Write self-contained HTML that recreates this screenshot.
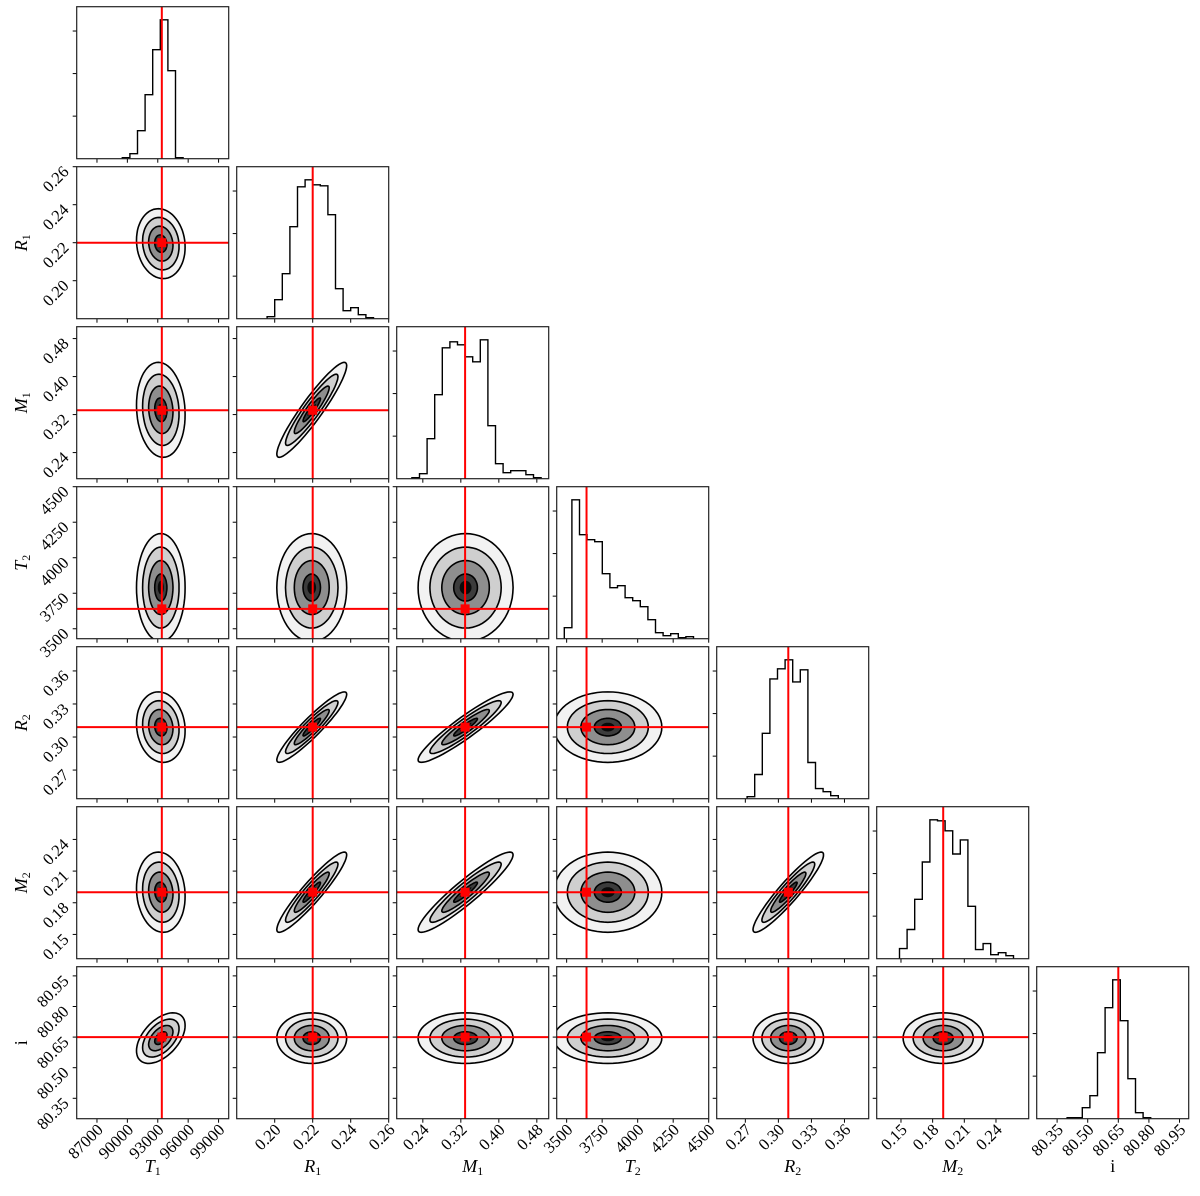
<!DOCTYPE html>
<html><head><meta charset="utf-8">
<style>
html,body{margin:0;padding:0;background:#fff;}
svg{display:block;font-family:"Liberation Serif",serif;}
</style></head>
<body>
<svg id="chart" width="1200" height="1196" viewBox="0 0 1200 1196" xmlns="http://www.w3.org/2000/svg"></svg>
<script>
// ---- data ----
const paramNames = ["T1","R1","M1","T2","R2","M2","i"];
const paramLo    = [85000, 0.18, 0.185, 3430, 0.244, 0.127, 80.25];
const paramHi    = [100000, 0.26, 0.505, 4500, 0.382, 0.271, 80.995];
const truthVals  = [93400, 0.22, 0.329, 3640, 0.309, 0.190, 80.65];
const meanVals   = [93300, 0.2195, 0.33, 3790, 0.309, 0.190, 80.645];
const sdVals     = [1200, 0.0092, 0.05, 190, 0.016, 0.019, 0.062];
const tickT1 = [87000,90000,93000,96000,99000];
const tickR1 = [0.20,0.22,0.24,0.26];
const tickM1 = [0.24,0.32,0.40,0.48];
const tickT2 = [3500,3750,4000,4250,4500];
const tickR2 = [0.27,0.30,0.33,0.36];
const tickM2 = [0.15,0.18,0.21,0.24];
const tickI  = [80.35,80.50,80.65,80.80,80.95];
const tickLabelsT1 = ["87000","90000","93000","96000","99000"];
const tickLabelsR1 = ["0.20","0.22","0.24","0.26"];
const tickLabelsM1 = ["0.24","0.32","0.40","0.48"];
const tickLabelsT2 = ["3500","3750","4000","4250","4500"];
const tickLabelsR2 = ["0.27","0.30","0.33","0.36"];
const tickLabelsM2 = ["0.15","0.18","0.21","0.24"];
const tickLabelsI  = ["80.35","80.50","80.65","80.80","80.95"];
// histogram counts (20 bins over [lo,hi]); start bin index
const histStart = [6, 4, 2, 1, 4, 3, 4];
const histT1 = [1, 5, 28, 64, 109, 139, 88, 1];
const histR1 = [2, 19, 45, 92, 132, 139, 134, 133, 104, 30, 8, 11, 4, 1];
const histM1 = [1, 5, 40, 84, 131, 137, 134, 122, 117, 139, 53, 15, 6, 8, 8, 4, 1];
const histT2 = [11, 139, 104, 99, 97, 65, 51, 53, 41, 38, 32, 19, 6, 3, 5, 1, 2];
const histR2 = [2, 24, 65, 119, 129, 138, 116, 128, 36, 10, 7, 3];
const histM2 = [10, 29, 59, 96, 138, 137, 127, 104, 118, 52, 9, 15, 4, 6, 3];
const histI  = [1, 1, 11, 23, 66, 111, 139, 98, 40, 6, 1];
// correlation matrix (lower triangle used)
const corrT1 = [1, -0.1, -0.1, 0, -0.1, -0.1, 0.5];
const corrR1 = [-0.1, 1, 0.93, 0, 0.93, 0.93, 0];
const corrM1 = [-0.1, 0.93, 1, 0, 0.93, 0.93, 0];
const corrT2 = [0, 0, 0, 1, 0, 0, 0];
const corrR2 = [-0.1, 0.93, 0.93, 0, 1, 0.93, 0];
const corrM2 = [-0.1, 0.93, 0.93, 0, 0.93, 1, 0];
const corrI  = [0.5, 0, 0, 0, 0, 0, 1];

const ticks = [tickT1,tickR1,tickM1,tickT2,tickR2,tickM2,tickI];
const tickLabels = [tickLabelsT1,tickLabelsR1,tickLabelsM1,tickLabelsT2,tickLabelsR2,tickLabelsM2,tickLabelsI];
const hists = [histT1,histR1,histM1,histT2,histR2,histM2,histI];
const corr = [corrT1,corrR1,corrM1,corrT2,corrR2,corrM2,corrI];

// ---- layout ----
const X0 = 76.7, Y0 = 6.7, STEP = 160, SIZE = 152, N = 7;
const svg = document.getElementById('chart');
const NS = "http://www.w3.org/2000/svg";
function mk(tag, attrs, parent){
  const e = document.createElementNS(NS, tag);
  for (const k in attrs) e.setAttribute(k, attrs[k]);
  (parent||svg).appendChild(e);
  return e;
}
function sx(p, v, col){ return X0 + col*STEP + (v - paramLo[p])/(paramHi[p]-paramLo[p])*SIZE; }
function sy(p, v, row){ return Y0 + row*STEP + SIZE - (v - paramLo[p])/(paramHi[p]-paramLo[p])*SIZE; }

const defs = mk('defs', {});
const levels = [2, 1.5, 1, 0.5, 0.25];
const fills = ['#f2f2f2', '#cfcfcf', '#8e8e8e', '#3c3c3c', '#0a0a0a'];

function ellipsePts(px, py, row, col, k){
  const r = corr[py][px];
  let pts = [];
  for (let t=0; t<=64; t++){
    const a = t/64*2*Math.PI;
    const u = Math.cos(a), w = Math.sin(a);
    const vx = meanVals[px] + k*sdVals[px]*u;
    const vy = meanVals[py] + k*sdVals[py]*(r*u + Math.sqrt(1-r*r)*w);
    pts.push(sx(px,vx,col).toFixed(1)+','+sy(py,vy,row).toFixed(1));
  }
  return pts.join(' ');
}

for (let row=0; row<N; row++){
  for (let col=0; col<=row; col++){
    const x0 = X0 + col*STEP, y0 = Y0 + row*STEP;
    const g = mk('g', {});
    
    
    const cid = 'clip'+row+'_'+col;
    const cp = mk('clipPath', {id: cid}, defs);
    mk('rect', {x:x0, y:y0, width:SIZE, height:SIZE}, cp);
    const inner = mk('g', {'clip-path':'url(#'+cid+')'}, g);
    if (row === col){
      const h = hists[col], start = histStart[col];
      const maxC = Math.max(...h);
      const binW = (paramHi[col]-paramLo[col])/20;
      const hy = c => y0 + SIZE - c/(maxC*1.094)*SIZE;
      let d = '';
      for (let b=0; b<h.length; b++){
        const xa = sx(col, paramLo[col] + (start+b)*binW, col);
        const xb = sx(col, paramLo[col] + (start+b+1)*binW, col);
        d += (b===0 ? 'M'+xa.toFixed(1)+','+(y0+SIZE) : '') + 'L'+xa.toFixed(1)+','+hy(h[b]).toFixed(1)+'L'+xb.toFixed(1)+','+hy(h[b]).toFixed(1);
        if (b===h.length-1) d += 'L'+xb.toFixed(1)+','+(y0+SIZE);
      }
      const hp = mk('path', {d:d, fill:'none', stroke:'#000', 'stroke-width':1.4}, inner);
      
      
      const tl = mk('line', {x1:sx(col,truthVals[col],col), x2:sx(col,truthVals[col],col), y1:y0, y2:y0+SIZE, stroke:'#f00', 'stroke-width':2}, inner);
      
      
      for (let k=1; k<=3; k++){
        const ty = y0 + SIZE - k*0.28*SIZE;
        mk('line', {x1:x0-4, x2:x0, y1:ty, y2:ty, stroke:'#000', 'stroke-width':1}, g);
      }
    } else {
      for (let li=0; li<levels.length; li++){
        const pg = mk('polygon', {points: ellipsePts(col,row,row,col,levels[li]), fill: fills[li], stroke:'none'}, inner);
        
        
      }
      for (let li=0; li<4; li++){
        const pc = mk('polygon', {points: ellipsePts(col,row,row,col,levels[li]), fill:'none', stroke:'#000', 'stroke-width':1.6}, inner);
        
        
      }
      const tx = sx(col,truthVals[col],col), ty = sy(row,truthVals[row],row);
      const vl = mk('line', {x1:tx, x2:tx, y1:y0, y2:y0+SIZE, stroke:'#f00', 'stroke-width':2}, inner);
      
      
      const hl = mk('line', {x1:x0, x2:x0+SIZE, y1:ty, y2:ty, stroke:'#f00', 'stroke-width':2}, inner);
      
      
      const mkr = mk('rect', {x:tx-4.5, y:ty-4.5, width:9, height:9, fill:'#f00'}, inner);
      
      
      ticks[row].forEach((v, idx) => {
        const yy = sy(row, v, row);
        if (yy < y0-0.5 || yy > y0+SIZE+0.5) return;
        mk('line', {x1:x0-4, x2:x0, y1:yy, y2:yy, stroke:'#000', 'stroke-width':1}, g);
        if (col === 0){
          const t = mk('text', {x:x0-7, y:yy+6, 'font-size':16.5, 'text-anchor':'end', transform:'rotate(-45 '+(x0-7)+' '+(yy+6)+')'}, g);
          t.textContent = tickLabels[row][idx];
          
          
        }
      });
    }
    ticks[col].forEach((v, idx) => {
      const xx = sx(col, v, col);
      if (xx < x0-0.5 || xx > x0+SIZE+0.5) return;
      mk('line', {x1:xx, x2:xx, y1:y0+SIZE, y2:y0+SIZE+4, stroke:'#000', 'stroke-width':1}, g);
      if (row === N-1){
        const t = mk('text', {x:xx+7, y:y0+SIZE+12, 'font-size':16.5, 'text-anchor':'end', transform:'rotate(-45 '+(xx+7)+' '+(y0+SIZE+12)+')'}, g);
        t.textContent = tickLabels[col][idx];
        
        
      }
    });
    const fr = mk('rect', {x:x0, y:y0, width:SIZE, height:SIZE, fill:'none', stroke:'#222', 'stroke-width':1.2}, g);
    
    
  }
}

const labelMain = ["T","R","M","T","R","M","i"];
const labelSub  = ["1","1","1","2","2","2",""];
for (let k=0; k<N; k++){
  const cx = X0 + k*STEP + SIZE/2;
  const t = mk('text', {x:cx, y:1172, 'font-size':18, 'text-anchor':'middle'});
  
  
  const a = mk('tspan', {'font-style': labelSub[k] ? 'italic' : 'normal'}, t); a.textContent = labelMain[k];
  if (labelSub[k]){ const b = mk('tspan', {'font-size':12, dy:3}, t); b.textContent = labelSub[k]; }
  if (k >= 1){
    const cy = Y0 + k*STEP + SIZE/2;
    const ty = mk('text', {x:0, y:0, 'font-size':18, 'text-anchor':'middle', transform:'translate(27 '+cy+') rotate(-90)'});
    
    
    const a2 = mk('tspan', {'font-style': labelSub[k] ? 'italic' : 'normal'}, ty); a2.textContent = labelMain[k];
    if (labelSub[k]){ const b2 = mk('tspan', {'font-size':12, dy:3}, ty); b2.textContent = labelSub[k]; }
  }
}
</script>
</body></html>
